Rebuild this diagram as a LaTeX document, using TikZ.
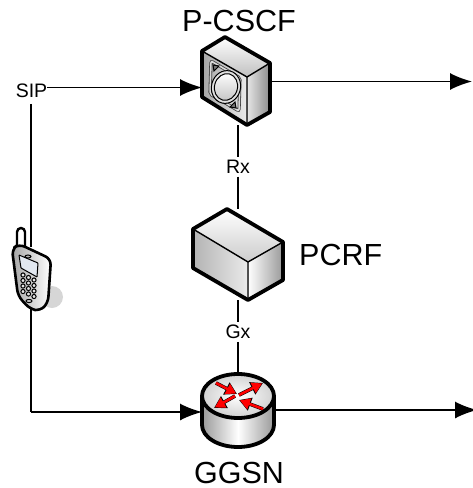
\documentclass[tikz,border=0pt]{standalone}
\usepackage{fontspec}
\setmainfont{Liberation Sans}
\usepackage{xcolor}
\usetikzlibrary{arrows.meta,positioning}
\definecolor{phoneShadow}{RGB}{214,214,214}
\definecolor{routerRed}{RGB}{255,0,0}
\definecolor{phoneScreen}{RGB}{226,232,240}
\begin{document}
\begin{tikzpicture}[x=1pt,y=-1pt,
  device/.style={inner sep=0pt,outer sep=0pt},
  title/.style={inner sep=0pt,font=\fontsize{30.5}{30.5}\selectfont},
  iface/.style={inner sep=0pt,outer ysep=3pt,font=\fontsize{19.5}{19.5}\selectfont},
  link/.style={line width=1.6pt},
  arrow/.style={-{Latex[length=22pt,width=17pt]},line width=1.6pt},
  outline/.style={line width=3.8pt,line join=round},
  crease/.style={line width=1.4pt,line join=round}
]
\useasboundingbox (0,0) rectangle (472,488);
\node[device,minimum width=68pt,minimum height=88pt] (pcscf) at (236,81) {};
\node[device,minimum width=90pt,minimum height=91pt] (pcrf) at (238,254.5) {};
\node[device,minimum width=72pt,minimum height=73pt] (ggsn) at (238,410) {};
\node[device,minimum width=38pt,minimum height=62pt] (phone) at (31,278) {};
\node[title,above=5pt of pcscf,xshift=3pt] (pcscftitle) {P-CSCF};
\node[title,right=16pt of pcrf] (pcrftitle) {PCRF};
\node[title,below=15pt of ggsn,xshift=1pt] (ggsntitle) {GGSN};
\node[iface] (sip) at (31.5,91) {SIP};
\node[iface] (rx) at (238,167) {Rx};
\node[iface] (gx) at (238,332) {Gx};
\coordinate (pcscfout) at (472,81.5);
\coordinate (ggsnout) at (477,410);
\coordinate (corner) at (31,412);
% connectors
\draw[link] ([yshift=-3pt]sip.south -| corner) -- (phone.north -| corner);
\draw[link] (phone.south -| corner) -- (corner);
\draw[arrow] (corner) -- (ggsn.west |- corner);
\draw[arrow] ([yshift=3.5pt]sip.east) -- (pcscf.west |- 0,87.5);
\draw[arrow] (pcscf.east |- pcscfout) -- (pcscfout);
\draw[arrow] (ggsn.east |- ggsnout) -- (ggsnout);
\draw[link] (pcscf.south -| rx) -- (rx.north);
\draw[link] (rx.south) -- (pcrf.north -| rx);
\draw[link] (pcrf.south -| gx) -- (gx.north);
\draw[link] (gx.south) -- (ggsn.north -| gx);
% P-CSCF
\fill[top color=white,bottom color=black!25] (225,37) -- (270,63) -- (247,77) -- (202,51) -- cycle;
\fill[left color=black!10,right color=black!45] (247,77) -- (270,63) -- (270,112) -- (247,125) -- cycle;
\fill[left color=black!35,right color=black!8] (202,51) -- (247,77) -- (247,125) -- (202,97) -- cycle;
\draw[crease] (202,51) -- (247,77) -- (270,63) (247,77) -- (247,125);
\draw[outline] (225,37) -- (270,63) -- (270,112) -- (247,125) -- (202,97) -- (202,51) -- cycle;
\draw[line width=3.2pt,black!75,rounded corners=2pt] (211,61) -- (240,78) -- (239,111) -- (210,94) -- cycle;
\draw[line width=1.6pt,white!85!black,rounded corners=2pt] (211,61) -- (240,78) -- (239,111) -- (210,94) -- cycle;
\foreach \cx/\cy/\dx/\dy in {213/65/1/1,237/79/-1/1,236/108/-1/-1,212/91/1/-1}
  \draw[line width=1pt,fill=black!55] (\cx,\cy) -- ++(6*\dx,1*\dy) -- ++(-5*\dx,5*\dy) -- cycle;
\draw[line width=1pt,fill=black!12,rotate around={-15:(226,87)}] (226,87) ellipse (14.5pt and 16.5pt);
\draw[line width=1pt,top color=white,bottom color=black!22,rotate around={-15:(226,87)}] (226,87) ellipse (11.5pt and 13.5pt);
% PCRF
\fill[top color=white,bottom color=black!20] (227,209) -- (283,242) -- (248,262) -- (193,229) -- cycle;
\fill[left color=white,right color=black!40] (248,262) -- (283,242) -- (283,280) -- (248,300) -- cycle;
\fill[left color=black!30,right color=black!8] (193,229) -- (248,262) -- (248,300) -- (193,268) -- cycle;
\draw[crease] (193,229) -- (248,262) -- (283,242) (248,262) -- (248,300);
\draw[outline] (227,209) -- (283,242) -- (283,280) -- (248,300) -- (193,268) -- (193,229) -- cycle;
% GGSN
\path[left color=black!40,right color=black!40,middle color=white] (202,396) -- (202,425) arc[start angle=180,end angle=360,x radius=36pt,y radius=22pt] -- (274,396) -- cycle;
\draw[outline,inner color=white,outer color=black!18] (238,396) ellipse (36pt and 22pt);
\draw[outline] (202,396) -- (202,425) arc[start angle=180,end angle=360,x radius=36pt,y radius=22pt] -- (274,396);
\foreach \tx/\ty/\hx/\hy in {216/383/237/394,239/395/263/383,235/396/214/408,263/409/239/400}{
  \draw[black,line width=3.6pt,-{Stealth[length=12pt,width=13pt,inset=0pt]}] (\tx,\ty) -- (\hx,\hy);
  \draw[routerRed,line width=2.6pt,shorten >=1pt,-{Stealth[length=10pt,width=11pt,inset=0pt]}] (\tx,\ty) -- (\hx,\hy);
}
% phone
\fill[phoneShadow] (52,297) circle (11pt);
\draw[line width=2.4pt,fill=white] (17,250) -- (17,232) arc[start angle=180,end angle=0,radius=4pt] -- (25,252);
\draw[line width=2.6pt,line join=round,left color=black!35,right color=white,rounded corners=6pt] (12,249) -- (19,244) -- (51,259) -- (48,303) -- (40,311) -- (30,309) -- (18,296) -- cycle;
\draw[line width=1pt,fill=phoneScreen,rounded corners=.5pt] (19,255) -- (38,263) -- (37,277) -- (21,268) -- cycle;
\draw[line width=1pt,fill=black!30] (28,256.5) ellipse (3pt and 1.5pt);
\foreach \col in {0,1,2} \foreach \row in {0,1,2,3}
  \draw[line width=1pt,fill=black!10] (23+5.5*\col,275+5.5*\row+2.5*\col) circle (2.1pt);
\draw[line width=1pt,fill=black!20] (29,301) ellipse (3pt and 1.6pt);
\end{tikzpicture}
\end{document}
